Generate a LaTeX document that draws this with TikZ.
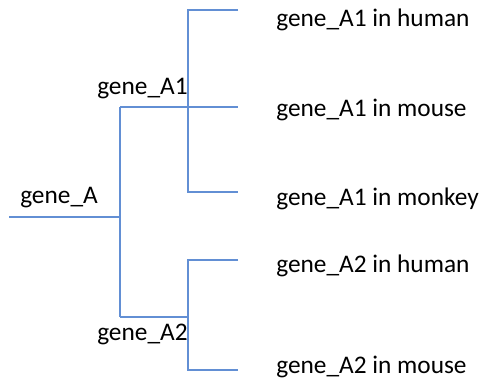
\documentclass[tikz,border=0pt]{standalone}
\usepackage{fontspec}
\setmainfont{Carlito}
\definecolor{branch}{RGB}{98,143,212}
\begin{document}
\begin{tikzpicture}[x=0.75pt,y=-0.75pt,
  edge/.style={draw=branch,line width=1pt},
  lbl/.style={anchor=base west,inner sep=0pt,font=\fontsize{19}{21}\selectfont}]
\useasboundingbox (0,0) rectangle (484,381);
% tree junctions
\coordinate (root) at (9,217);
\coordinate (rootv) at (120,217);
\coordinate (a1) at (120,107);
\coordinate (a2) at (120,317);
\coordinate (a1v) at (188,107);
\coordinate (a2v) at (188,317);
% leaf ends
\coordinate (l1) at (238,10);
\coordinate (l2) at (238,107);
\coordinate (l3) at (238,192);
\coordinate (l4) at (238,260);
\coordinate (l5) at (238,370);
% branches
\draw[edge] (root) -- (rootv);
\draw[edge] (a1) -- (a2);
\draw[edge] (a1) -- (l2);
\draw[edge] (a2) -- (a2v);
\draw[edge] (l1) -| (a1v |- l3) -- (l3);
\draw[edge] (l4) -| (a2v |- l5) -- (l5);
% labels
\node[lbl] (tA) at (20,203) {gene\_A};
\node[lbl] (tA1) at (97,95) {gene\_A1};
\node[lbl] (tA2) at (97,340) {gene\_A2};
\node[lbl] (h1) at (276,27) {gene\_A1 in human};
\node[lbl] (m1) at (276,117) {gene\_A1 in mouse};
\node[lbl] (k1) at (276,205) {gene\_A1 in monkey};
\node[lbl] (h2) at (276,272) {gene\_A2 in human};
\node[lbl] (m2) at (276,373) {gene\_A2 in mouse};
\end{tikzpicture}
\end{document}
